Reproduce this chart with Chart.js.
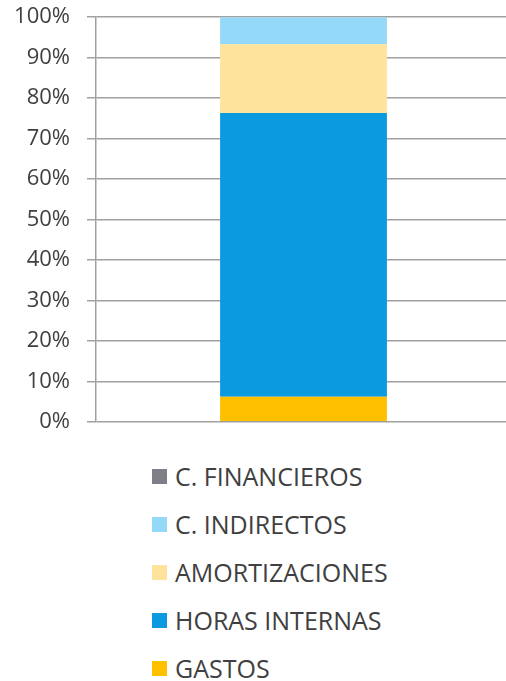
<!DOCTYPE html>
<html>
<head>
<meta charset="utf-8">
<script src="https://cdn.jsdelivr.net/npm/chart.js@4/dist/chart.umd.min.js"></script>
<style>
  html, body { margin: 0; padding: 0; background: #fff; overflow: hidden; }
  #wrap { position: relative; width: 506px; height: 681px; overflow: hidden; }
  #chartBox { position: absolute; left: 0; top: -13px; width: 511px; height: 465px; }
  #legend { position: absolute; left: 152px; top: 452px; margin: 0; padding: 0; list-style: none;
            font-family: "Open Sans", sans-serif; font-size: 25px; color: #404040; }
  #legend li { height: 48px; display: flex; align-items: center; }
  #legend .box { width: 15px; height: 15px; margin-right: 8px; flex: none; }
</style>
</head>
<body>
<div id="wrap">
  <div id="chartBox"><canvas id="costChart"></canvas></div>
  <ul id="legend"></ul>
</div>
<script>
document.addEventListener('DOMContentLoaded', function() {
    // Cost breakdown (share of total, %)
    const categories = [''];
    const seriesNames = ['GASTOS', 'HORAS INTERNAS', 'AMORTIZACIONES', 'C. INDIRECTOS', 'C. FINANCIEROS'];
    const gastos = [6.2];
    const horasInternas = [70.1];
    const amortizaciones = [17.0];
    const cIndirectos = [6.7];
    const cFinancieros = [0];
    const colors = ['#FFC000', '#0B9ADF', '#FDE39B', '#95D9F8', '#7F7F87'];

    const values = [gastos, horasInternas, amortizaciones, cIndirectos, cFinancieros];

    const ctx = document.getElementById('costChart').getContext('2d');
    const chart = new Chart(ctx, {
        type: 'bar',
        data: {
            labels: categories,
            datasets: seriesNames.map((name, i) => ({
                label: name,
                data: values[i],
                backgroundColor: colors[i],
                barPercentage: 1,
                categoryPercentage: 0.402
            }))
        },
        options: {
            responsive: true,
            maintainAspectRatio: false,
            animation: false,
            layout: { padding: { top: 3, bottom: 6, left: 0, right: 0 } },
            plugins: {
                legend: { display: false },
                tooltip: { enabled: false }
            },
            scales: {
                x: {
                    stacked: true,
                    display: false
                },
                y: {
                    stacked: true,
                    min: 0,
                    max: 100,
                    ticks: {
                        stepSize: 10,
                        padding: 17,
                        color: '#404040',
                        font: { family: 'Open Sans', size: 22 },
                        callback: v => v + '%'
                    },
                    grid: {
                        color: '#A0A0A0',
                        lineWidth: 1.5,
                        tickLength: 9
                    },
                    border: { color: '#A0A0A0', width: 1.5 },
                    afterFit: scale => { scale.width = 96; }
                }
            }
        }
    });

    // Vertical legend, last series on top
    const legendList = document.getElementById('legend');
    chart.options.plugins.legend.labels.generateLabels(chart).reverse().forEach(item => {
        const li = document.createElement('li');
        const box = document.createElement('span');
        box.className = 'box';
        box.style.background = item.fillStyle;
        li.appendChild(box);
        li.appendChild(document.createTextNode(item.text));
        legendList.appendChild(li);
    });
});
</script>
</body>
</html>
